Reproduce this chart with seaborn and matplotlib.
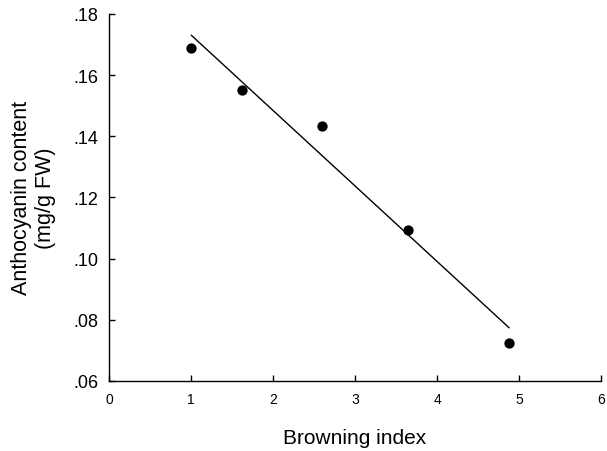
import numpy as np
import pandas as pd
import matplotlib
matplotlib.use('Agg')
import matplotlib.pyplot as plt
from matplotlib.ticker import FuncFormatter
import seaborn as sns

# values
browning_index = [1.0, 1.62, 2.60, 3.65, 4.88]
anthocyanin = [0.169, 0.155, 0.1435, 0.1095, 0.0725]
x_ticks = [0, 1, 2, 3, 4, 5, 6]
y_ticks = [0.06, 0.08, 0.10, 0.12, 0.14, 0.16, 0.18]

df = pd.DataFrame({'browning': browning_index, 'anthocyanin': anthocyanin})

sns.set_style('ticks')
plt.rcParams['font.family'] = ['Liberation Sans', 'DejaVu Sans']
plt.rcParams['text.color'] = 'black'
plt.rcParams['axes.labelcolor'] = 'black'
plt.rcParams['xtick.color'] = 'black'
plt.rcParams['ytick.color'] = 'black'

fig = plt.figure(figsize=(6.07, 4.52), dpi=100)
ax = fig.add_axes([0.18, 0.155, 0.81, 0.812])

sns.regplot(
    data=df, x='browning', y='anthocyanin', ax=ax, ci=None, truncate=True,
    scatter_kws={'s': 55, 'color': 'black', 'alpha': 1, 'linewidths': 0, 'zorder': 3},
    line_kws={'color': 'black', 'linewidth': 1.0},
)

ax.set_xlim(0, 6)
ax.set_ylim(0.06, 0.18)
ax.set_xticks(x_ticks)
ax.set_yticks(y_ticks)
ax.yaxis.set_major_formatter(FuncFormatter(lambda v, p: f'{v:.2f}'.lstrip('0')))
ax.tick_params(axis='x', direction='in', length=4, width=1, labelsize=10, pad=8)
ax.tick_params(axis='y', direction='in', length=4, width=1, labelsize=13, pad=8)

for side in ['top', 'right']:
    ax.spines[side].set_visible(False)
for side in ['left', 'bottom']:
    ax.spines[side].set_linewidth(1.0)
    ax.spines[side].set_color('black')

ax.set_xlabel('Browning index', fontsize=15, labelpad=16)
ax.set_ylabel('Anthocyanin content\n(mg/g FW)', fontsize=15.5, labelpad=12)

fig.savefig('out.png', dpi=100)
plt.close(fig)
